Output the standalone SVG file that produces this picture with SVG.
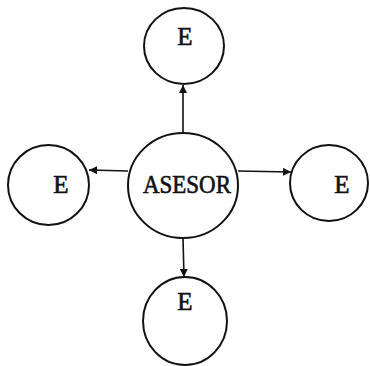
<svg xmlns="http://www.w3.org/2000/svg" width="370" height="366" viewBox="0 0 370 366">
<style>
.n{fill:none;stroke:#111;stroke-width:2}
.t{font-family:"Liberation Serif",serif;font-size:25px;fill:#111;stroke:#111;stroke-width:0.6;text-anchor:middle}
.c{fill:none;stroke:#111;stroke-width:1.6}
</style>
<defs>
<marker id="ah" viewBox="0 0 8 8" refX="8" refY="4" markerWidth="5" markerHeight="5" orient="auto" markerUnits="strokeWidth">
<path d="M0,0 L8,4 L0,8 Z" fill="#111"/>
</marker>
</defs>
<rect width="370" height="366" fill="#fff"/>
<g id="connectors">
<line class="c" x1="183" y1="133" x2="183" y2="85" marker-end="url(#ah)"/>
<line class="c" x1="128" y1="171" x2="89" y2="170" marker-end="url(#ah)"/>
<line class="c" x1="238" y1="171" x2="291" y2="172" marker-end="url(#ah)"/>
<line class="c" x1="183" y1="238" x2="184" y2="277" marker-end="url(#ah)"/>
</g>
<g id="asesor">
<ellipse class="n" cx="183" cy="185.5" rx="55" ry="52.5"/>
<text class="t" x="187" y="193" textLength="88" lengthAdjust="spacingAndGlyphs">ASESOR</text>
</g>
<g id="e-top">
<ellipse class="n" cx="184" cy="46" rx="40" ry="38"/>
<text class="t" x="185" y="45">E</text>
</g>
<g id="e-left">
<ellipse class="n" cx="48.5" cy="185" rx="40.5" ry="40"/>
<text class="t" x="61" y="193">E</text>
</g>
<g id="e-right">
<ellipse class="n" cx="329" cy="183" rx="39" ry="38"/>
<text class="t" x="342" y="193">E</text>
</g>
<g id="e-bottom">
<ellipse class="n" cx="185" cy="321" rx="42" ry="44"/>
<text class="t" x="185" y="310">E</text>
</g>
</svg>
